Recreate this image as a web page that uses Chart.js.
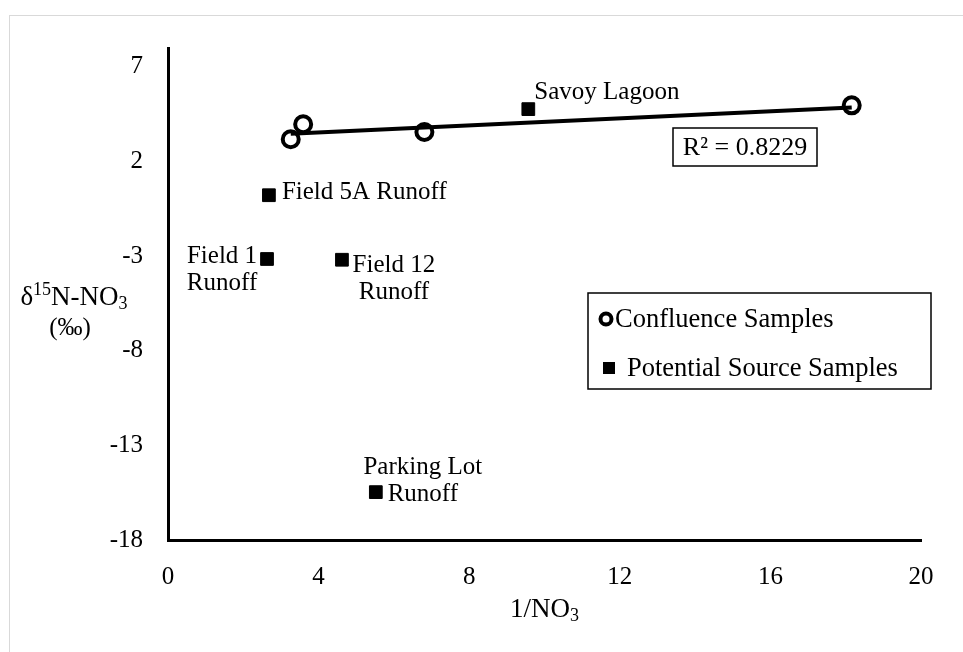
<!DOCTYPE html>
<html>
<head>
<meta charset="utf-8">
<script src="https://cdn.jsdelivr.net/npm/chart.js@4"></script>
<style>
  html, body { margin: 0; padding: 0; background: #fff; overflow: hidden; }
  #frame { position: absolute; left: 9px; top: 15px; width: 1000px; height: 700px; border: 1px solid #d9d9d9; }
  canvas { position: absolute; left: 0; top: 0; }
</style>
</head>
<body>
<div id="frame"></div>
<canvas id="chart" width="963" height="652"></canvas>
<script>
// valores
const confluenceX = [3.26, 3.59, 6.81, 18.16];
const confluenceY = [3.18, 3.97, 3.56, 4.97];

const sourceLabels = [['Savoy Lagoon'], ['Field 5A Runoff'], ['Field 1', 'Runoff'], ['Field 12', 'Runoff'], ['Parking Lot', 'Runoff']];
const sourceX = [9.57, 2.68, 2.63, 4.62, 5.52];
const sourceY = [4.77, 0.22, -3.15, -3.19, -15.47];

// linha de tendência (extremos)
const trendX = [3.26, 18.16];
const trendY = [3.47, 4.85];
const rSquared = 'R² = 0.8229';

const xTicks = [0, 4, 8, 12, 16, 20];
const yTicks = [-18, -13, -8, -3, 2, 7];

const FONT = '"Liberation Serif", "Times New Roman", serif';

// posição dos rótulos em relação ao ponto
const labelOffsets = [
    { dx: 6, dy: -17, align: 'left' },
    { dx: 13, dy: -3, align: 'left' },
    { dx: -45, dy: -3, align: 'center' },
    { dx: 52, dy: 6, align: 'center' },
    { dx: 47, dy: -25, align: 'center' }
];

function drawRich(c, parts, x, y, size) {
    const small = Math.round(size * 0.65);
    let w = 0;
    parts.forEach(p => {
        c.font = (p.sup || p.sub ? small : size) + 'px ' + FONT;
        p.w = c.measureText(p.t).width;
        w += p.w;
    });
    let cx = x - w / 2;
    c.textAlign = 'left';
    parts.forEach(p => {
        c.font = (p.sup || p.sub ? small : size) + 'px ' + FONT;
        let dy = 0;
        if (p.sup) dy = -size * 0.3;
        if (p.sub) dy = size * 0.25;
        c.fillText(p.t, cx, y + dy);
        cx += p.w;
    });
}

const overlay = {
    id: 'overlay',
    afterDatasetsDraw(chart) {
        const c = chart.ctx;
        const a = chart.chartArea;
        const xs = chart.scales.x, ys = chart.scales.y;
        c.save();
        c.fillStyle = '#000';
        c.strokeStyle = '#000';
        c.textBaseline = 'middle';

        // rótulos das fontes
        c.font = '25px ' + FONT;
        sourceX.forEach((v, i) => {
            const px = xs.getPixelForValue(v);
            const py = ys.getPixelForValue(sourceY[i]);
            const o = labelOffsets[i];
            c.textAlign = o.align;
            sourceLabels[i].forEach((line, k) => c.fillText(line, px + o.dx, py + o.dy + k * 27));
        });

        // caixa do R²
        c.lineWidth = 1.5;
        c.strokeRect(a.left + 505, a.top + 80, 144, 38);
        c.font = '26px ' + FONT;
        c.textAlign = 'center';
        c.fillText(rSquared, a.left + 577, a.top + 100);

        // legenda
        const lx = a.left + 420, ly = a.top + 245;
        c.strokeRect(lx, ly, 343, 96);
        c.lineWidth = 4;
        c.beginPath();
        c.arc(lx + 18, ly + 26, 5.5, 0, Math.PI * 2);
        c.stroke();
        c.fillRect(lx + 15, ly + 69, 12, 12);
        c.font = '26.5px ' + FONT;
        c.textAlign = 'left';
        c.fillText(chart.data.datasets[1].label, lx + 27, ly + 27);
        c.fillText(chart.data.datasets[2].label, lx + 39, ly + 76);

        // títulos dos eixos
        drawRich(c, [{ t: '1/NO' }, { t: '3', sub: true }], (a.left + a.right) / 2, 610, 27);
        drawRich(c, [{ t: 'δ' }, { t: '15', sup: true }, { t: 'N-NO' }, { t: '3', sub: true }], 74, 298, 27);
        drawRich(c, [{ t: '(‰)' }], 70, 328, 25);
        c.restore();
    }
};

new Chart(document.getElementById('chart'), {
    data: {
        datasets: [
            {
                type: 'line',
                label: 'Trend',
                data: trendX.map((x, i) => ({ x: x, y: trendY[i] })),
                borderColor: '#000',
                borderWidth: 4,
                pointRadius: 0,
                fill: false
            },
            {
                type: 'scatter',
                label: 'Confluence Samples',
                data: confluenceX.map((x, i) => ({ x: x, y: confluenceY[i] })),
                pointStyle: 'circle',
                pointRadius: 8,
                pointBorderWidth: 4,
                pointBorderColor: '#000',
                pointBackgroundColor: 'rgba(0,0,0,0)'
            },
            {
                type: 'scatter',
                label: 'Potential Source Samples',
                data: sourceX.map((x, i) => ({ x: x, y: sourceY[i] })),
                pointStyle: 'rect',
                pointRadius: 9,
                pointBorderWidth: 1,
                pointBorderColor: '#000',
                pointBackgroundColor: '#000'
            }
        ]
    },
    options: {
        responsive: false,
        animation: false,
        layout: { padding: { top: 48, right: 42, left: 0, bottom: 0 } },
        plugins: {
            legend: { display: false },
            tooltip: { enabled: false }
        },
        scales: {
            x: {
                type: 'linear',
                min: 0,
                max: 20,
                afterBuildTicks: s => { s.ticks = xTicks.map(v => ({ value: v })); },
                afterFit: s => { s.height = 112; },
                grid: { display: true, drawOnChartArea: false, drawTicks: false },
                border: { display: true, color: '#000', width: 3 },
                ticks: { color: '#000', padding: 22, font: { family: FONT, size: 25 } }
            },
            y: {
                type: 'linear',
                min: -18,
                max: 8,
                afterBuildTicks: s => { s.ticks = yTicks.map(v => ({ value: v })); },
                afterFit: s => { s.width = 168; },
                grid: { display: true, drawOnChartArea: false, drawTicks: false },
                border: { display: true, color: '#000', width: 3 },
                ticks: { color: '#000', padding: 25, font: { family: FONT, size: 25 } }
            }
        }
    },
    plugins: [overlay]
});
</script>
</body>
</html>
